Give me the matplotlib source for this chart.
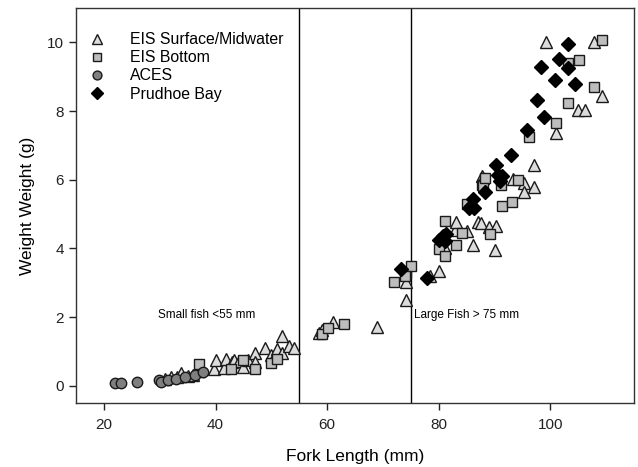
import matplotlib
matplotlib.use("Agg")
import matplotlib.pyplot as plt

plt.rcParams['font.family'] = ['Liberation Sans', 'DejaVu Sans']

# EIS Surface/Midwater (triangles): fork length (mm), weight (g)
eis_surf_len = [31.0, 32.0, 33.1, 33.9, 35.0, 35.9, 37.0, 37.1, 39.8, 40.0, 41.5, 41.9,
                43.0, 43.4, 44.3, 45.0, 45.9, 47.0, 47.0, 48.9, 49.9, 50.5, 51.0, 52.0,
                52.0, 53.1, 54.1,
                58.6, 59.1, 61.1, 69.0,
                74.1, 74.1, 78.4, 80.0, 81.2, 82.9, 83.1, 85.1, 86.1, 87.0, 87.6, 87.7,
                88.0, 89.0, 90.2, 90.1, 93.4, 95.2, 95.2, 97.1, 97.1, 101.1, 99.2, 105.0,
                106.2, 107.9, 109.2]
eis_surf_wt = [0.20, 0.25, 0.25, 0.38, 0.30, 0.32, 0.54, 0.42, 0.50, 0.76, 0.52, 0.77,
               0.68, 0.74, 0.71, 0.55, 0.74, 0.95, 0.68, 1.10, 0.90, 0.85, 1.07, 1.46,
               0.95, 1.15, 1.10,
               1.55, 1.62, 1.85, 1.71,
               3.01, 2.51, 3.20, 3.33, 4.01, 4.55, 4.76, 4.50, 4.11, 4.76, 4.74, 6.10,
               6.05, 4.63, 4.65, 3.94, 6.03, 5.91, 5.64, 5.79, 6.44, 7.35, 10.01, 8.03,
               8.03, 10.01, 8.45]

# EIS Bottom (squares)
eis_bot_len = [37.0, 42.8, 44.9, 47.1, 49.9, 51.0,
               59.1, 60.1, 63.0,
               72.0, 74.2, 75.1, 73.9, 80.1, 81.1, 81.1, 83.1, 84.1, 85.1, 87.7, 88.0,
               88.3, 89.2, 91.2, 91.4, 93.1, 94.2, 96.1, 101.1, 103.1, 103.1, 105.1,
               107.9, 109.3]
eis_bot_wt = [0.63, 0.49, 0.74, 0.49, 0.66, 0.78,
              1.50, 1.68, 1.80,
              3.01, 3.28, 3.48, 3.20, 3.98, 3.79, 4.79, 4.11, 4.45, 5.28, 5.86, 5.81,
              6.05, 4.43, 5.86, 5.25, 5.34, 6.00, 7.25, 7.66, 8.22, 9.41, 9.48,
              8.71, 10.07]

# ACES (circles)
aces_len = [22.0, 23.0, 26.0, 29.9, 30.2, 31.5, 33.0, 34.5, 36.3, 37.7]
aces_wt = [0.07, 0.08, 0.11, 0.17, 0.12, 0.18, 0.21, 0.25, 0.31, 0.40]

# Prudhoe Bay (diamonds)
prudhoe_len = [73.3, 77.9, 80.0, 80.7, 81.3, 81.1, 85.5, 85.7, 86.1, 86.4, 88.3, 90.2,
               90.6, 91.0, 91.3, 93.0, 95.8, 97.6, 98.4, 98.9, 100.8, 101.5, 103.2,
               103.2, 104.5]
prudhoe_wt = [3.40, 3.15, 4.24, 4.35, 4.43, 4.21, 5.18, 5.25, 5.44, 5.18, 5.64, 6.44,
              6.15, 5.96, 6.10, 6.73, 7.44, 8.32, 9.29, 7.83, 8.90, 9.52, 9.94,
              9.26, 8.80]

size_cutoffs = [55, 75]
x_ticks = [20, 40, 60, 80, 100]
y_ticks = [0, 2, 4, 6, 8, 10]

fig = plt.figure(figsize=(6.38, 4.67), dpi=100)
ax = fig.add_axes([76 / 638, 1 - 403 / 467, (634 - 76) / 638, (403 - 8) / 467])

ax.plot(eis_surf_len, eis_surf_wt, linestyle='none', marker='^', markersize=8.5,
        markerfacecolor='#dcdcdc', markeredgecolor='#1a1a1a', markeredgewidth=1.0,
        label='EIS Surface/Midwater', zorder=3)
ax.plot(eis_bot_len, eis_bot_wt, linestyle='none', marker='s', markersize=7,
        markerfacecolor='#bdbdbd', markeredgecolor='#1a1a1a', markeredgewidth=1.0,
        label='EIS Bottom', zorder=3)
ax.plot(aces_len, aces_wt, linestyle='none', marker='o', markersize=7.5,
        markerfacecolor='#7f7f7f', markeredgecolor='#1a1a1a', markeredgewidth=1.0,
        label='ACES', zorder=3)
ax.plot(prudhoe_len, prudhoe_wt, linestyle='none', marker='D', markersize=7,
        markerfacecolor='black', markeredgecolor='black', markeredgewidth=1.0,
        label='Prudhoe Bay', zorder=4)

for xc in size_cutoffs:
    ax.axvline(xc, color='black', linewidth=1.0, zorder=2)

ax.text(29.7, 2.05, 'Small fish <55 mm', fontsize=8.5, va='center', ha='left')
ax.text(75.6, 2.05, 'Large Fish > 75 mm', fontsize=8.5, va='center', ha='left')

ax.set_xlim(15, 115)
ax.set_ylim(-0.5, 11.0)
ax.set_xticks(x_ticks)
ax.set_yticks(y_ticks)
ax.tick_params(direction='out', length=5, width=1, labelsize=11, colors='#222222')
ax.tick_params(axis='x', pad=6)
for side in ['left', 'bottom', 'right', 'top']:
    ax.spines[side].set_color('#333333')
    ax.spines[side].set_linewidth(1.0)

ax.set_xlabel('Fork Length (mm)', fontsize=12.5, labelpad=12)
ax.set_ylabel('Weight Weight (g)', fontsize=12.5, labelpad=9)

ax.legend(loc='upper left', frameon=False, fontsize=11.4, handlelength=1.0,
          handletextpad=1.6, labelspacing=0.2, borderaxespad=0.0, markerscale=0.85,
          bbox_to_anchor=(0.012, 0.955))

fig.savefig('out.png', dpi=100)
